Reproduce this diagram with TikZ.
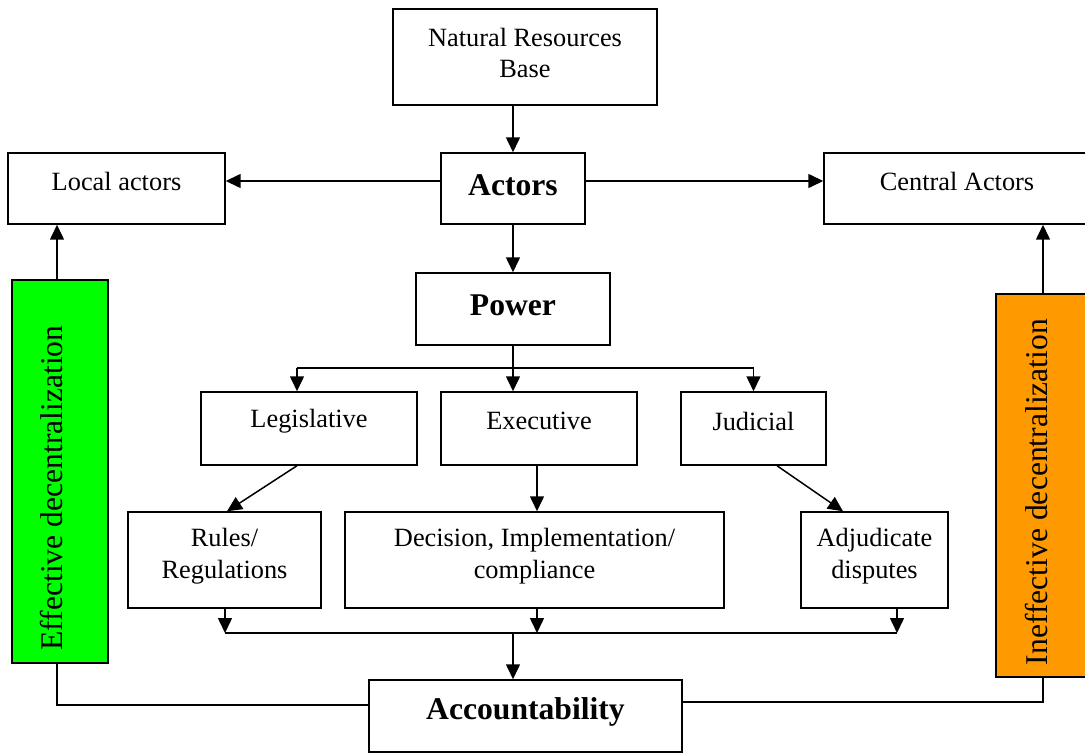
\documentclass[tikz,border=0pt]{standalone}
\usepackage{fontspec}
\setmainfont{Liberation Serif}
\usetikzlibrary{arrows.meta}
\definecolor{effgreen}{HTML}{00FF00}
\definecolor{ineorange}{HTML}{FF9900}
\tikzset{
  box/.style={draw=black, line width=0.85pt, rectangle, inner sep=0pt, fill=white},
  txt/.style={inner sep=0pt, align=center, font=\fontsize{15}{18.2}\selectfont},
  btxt/.style={inner sep=0pt, align=center, font=\fontsize{18}{21}\selectfont\bfseries},
  stxt/.style={inner sep=0pt, rotate=90, font=\fontsize{18}{21}\selectfont},
  conn/.style={line width=0.85pt},
  arr/.style={line width=0.85pt, -{Triangle[length=0.3cm, width=0.28cm]}},
}
\begin{document}
\begin{tikzpicture}[x=0.02cm, y=-0.02cm]
\useasboundingbox (0,0) rectangle (1085,753);
\clip (0,0) rectangle (1085,753);
% boxes
\node[box, minimum width=5.28cm, minimum height=1.92cm] (nrb) at (525,57) {};
\node[txt] (nrbt) at (525,53) {Natural Resources\\Base};
\node[box, minimum width=2.88cm, minimum height=1.42cm] (act) at (513,188.5) {};
\node[btxt] (actt) at (513,185) {Actors};
\node[box, minimum width=4.34cm, minimum height=1.42cm] (loc) at (116.5,188.5) {};
\node[txt] (loct) at (116.5,181) {Local actors};
\node[box, minimum width=5.32cm, minimum height=1.42cm] (cen) at (957,188.5) {};
\node[txt] (cent) at (957,181) {Central Actors};
\node[box, minimum width=3.88cm, minimum height=1.44cm] (pow) at (513,309) {};
\node[btxt] (powt) at (513,305) {Power};
\node[box, minimum width=4.32cm, minimum height=1.46cm] (leg) at (309,428.5) {};
\node[txt] (legt) at (309,421) {Legislative};
\node[box, minimum width=3.92cm, minimum height=1.46cm] (exe) at (539,428.5) {};
\node[txt] (exet) at (539,421) {Executive};
\node[box, minimum width=2.9cm, minimum height=1.46cm] (jud) at (753.5,428.5) {};
\node[txt] (judt) at (753.5,421) {Judicial};
\node[box, minimum width=3.86cm, minimum height=1.92cm] (rul) at (224.5,560) {};
\node[txt] (rult) at (224.5,556) {Rules/\\Regulations};
\node[box, minimum width=7.58cm, minimum height=1.92cm] (dec) at (534.5,560) {};
\node[txt] (dect) at (534.5,556) {Decision, Implementation/\\compliance};
\node[box, minimum width=2.94cm, minimum height=1.92cm] (adj) at (874.5,560) {};
\node[txt] (adjt) at (874.5,556) {Adjudicate\\disputes};
\node[box, minimum width=6.26cm, minimum height=1.44cm] (acc) at (525.5,716) {};
\node[btxt] (acct) at (525.5,712) {Accountability};
\node[box, fill=effgreen, minimum width=1.92cm, minimum height=7.66cm] (eff) at (60,471.5) {};
\node[stxt] (efft) at (52,488) {Effective decentralization};
\node[box, fill=ineorange, minimum width=1.88cm, minimum height=7.66cm] (ine) at (1043,485.5) {};
\node[stxt] (inet) at (1037,492) {Ineffective decentralization};
% coordinates
\coordinate (b1) at (297,368);
\coordinate (b2) at (513,368);
\coordinate (b3) at (753.5,368);
\coordinate (c1) at (225,633);
\coordinate (c2) at (537,633);
\coordinate (c3) at (897,633);
\coordinate (c4) at (513,633);
% connectors
\draw[arr] (nrb.south -| act.north) -- (act.north);
\draw[arr] ([yshift=0.15cm]act.west) -- ([yshift=0.15cm]loc.east);
\draw[arr] ([yshift=0.15cm]act.east) -- ([yshift=0.15cm]cen.west);
\draw[arr] (act.south) -- (act.south |- pow.north);
\draw[conn] (pow.south) -- (b2);
\draw[conn] (b1) -- (b3);
\draw[arr] (b1) -- (b1 |- leg.north);
\draw[arr] (b2) -- (b2 |- exe.north);
\draw[arr] (b3) -- (b3 |- jud.north);
\draw[arr] ([xshift=-0.24cm]leg.south) -- ([xshift=0.05cm]rul.north);
\draw[arr] ([xshift=-0.04cm]exe.south) -- ([xshift=-0.04cm]exe.south |- dec.north);
\draw[arr] ([xshift=0.47cm]jud.south) -- ([xshift=-0.63cm]adj.north);
\draw[arr] (c1 |- rul.south) -- (c1);
\draw[arr] (c2 |- dec.south) -- (c2);
\draw[arr] (c3 |- adj.south) -- (c3);
\draw[conn] (c1) -- (c3);
\draw[arr] (c4) -- (c4 |- acc.north);
\draw[arr] ([xshift=-0.06cm]eff.north) -- ([xshift=-0.06cm]eff.north |- loc.south);
\draw[conn] ([xshift=-0.06cm]eff.south) |- ([yshift=0.22cm]acc.west);
\draw[arr] (ine.north) -- (ine.north |- cen.south);
\draw[conn] (ine.south) |- ([yshift=0.28cm]acc.east);
\end{tikzpicture}
\end{document}
